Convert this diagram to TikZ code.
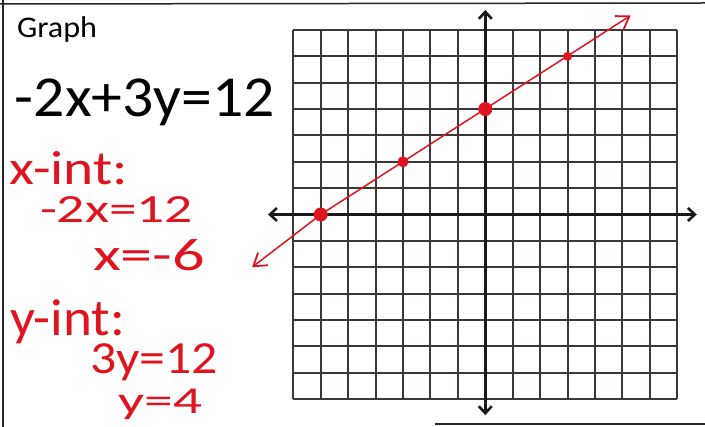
\documentclass[tikz,border=0pt]{standalone}
\usepackage{fontspec}
\setmainfont{Carlito}
\usetikzlibrary{arrows.meta}
\definecolor{pen}{HTML}{E0141E}
\definecolor{gridc}{HTML}{3C3838}
\newcommand\fitw[2]{\resizebox{#1}{\height}{#2}}
\tikzset{
  hand/.style={anchor=base west, inner sep=0pt, outer sep=0pt},
  redtxt/.style={hand, text=pen},
  gridline/.style={draw=gridc, line width=2pt},
  axisline/.style={draw=black!90, line width=2.6pt, {Straight Barb[length=7pt,width=13pt,line width=2.6pt]}-{Straight Barb[length=7pt,width=13pt,line width=2.6pt]}},
  redline/.style={draw=pen, line width=1.5pt, {Straight Barb[length=12pt,width=16pt,line width=1.8pt]}-{Straight Barb[length=12pt,width=16pt,line width=1.8pt]}},
  dot/.style={circle, fill=pen, inner sep=0pt, minimum size=#1},
  frameline/.style={draw=black!85, line width=1.5pt}
}
\begin{document}
\begin{tikzpicture}[x=1pt,y=-1pt]
\useasboundingbox (0,0) rectangle (705,427);
\fill[white] (0,0) rectangle (705,427);
% frame
\draw[frameline] (0,4) -- (705,3);
\draw[frameline] (3,0) -- (3,427);
\draw[frameline] (435,424) -- (705,424);
% texts
\node[hand, font=\fontsize{30}{32}\selectfont] (title) at (17,38) {\fitw{80pt}{Graph}};
\node[hand, font=\fontsize{58}{60}\selectfont] (eq) at (15,117) {\fitw{260pt}{-2x+3y=12}};
\node[redtxt, font=\fontsize{48}{50}\selectfont] (xint) at (10,185) {\fitw{118pt}{x-int:}};
\node[redtxt, font=\fontsize{40}{42}\selectfont] (xa) at (40,223) {\fitw{153pt}{-2x=12}};
\node[redtxt, font=\fontsize{46}{48}\selectfont] (xb) at (93,271) {\fitw{112pt}{x=-6}};
\node[redtxt, font=\fontsize{52}{54}\selectfont] (yint) at (10,336) {\fitw{115pt}{y-int:}};
\node[redtxt, font=\fontsize{46}{48}\selectfont] (ya) at (90,374) {\fitw{128pt}{3y=12}};
\node[redtxt, font=\fontsize{38}{40}\selectfont] (yb) at (118,414) {\fitw{84pt}{y=4}};
% graph
\begin{scope}[shift={(485.3,214.5)}, x=27.43pt, y=26.36pt]
  \foreach \i in {-7,...,7} {\draw[gridline] (\i,-7) -- (\i,7);}
  \foreach \j in {-7,...,7} {\draw[gridline] (-7,\j) -- (7,\j);}
  \coordinate (xl) at (-7.92,0);
  \coordinate (xr) at (7.71,0);
  \coordinate (yb0) at (0,-7.61);
  \coordinate (yt) at (0,7.76);
  \draw[axisline] (xl) -- (xr);
  \draw[axisline] (yb0) -- (yt);
  \coordinate (la) at (-8.5,-2.0);
  \coordinate (ua) at (5.3,7.55);
  \node[dot=14pt] (p1) at (-6,0) {};
  \node[dot=11pt] (p2) at (-3,2) {};
  \node[dot=14pt] (p3) at (0,4) {};
  \node[dot=9pt] (p4) at (3,6) {};
  \draw[redline] (la) -- (p1.center) -- (ua);
\end{scope}
\end{tikzpicture}
\end{document}
